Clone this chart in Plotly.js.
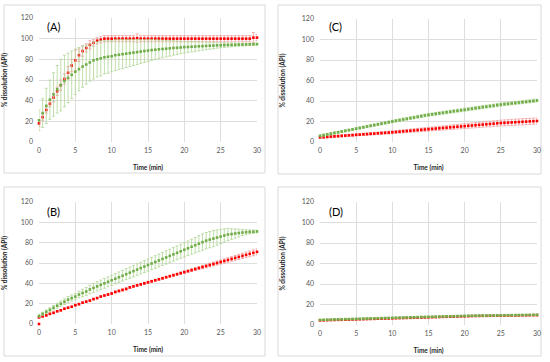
<!DOCTYPE html>
<html>
<head>
<meta charset="utf-8">
<script src="https://cdn.plot.ly/plotly-3.0.1.min.js"></script>
<style>html,body{margin:0;padding:0;background:#fff;}#chart{width:550px;height:362px;}</style>
</head>
<body>
<div id="chart"></div>
<script>
const time = [0,0.5,1,1.5,2,2.5,3,3.5,4,4.5,5,5.5,6,6.5,7,7.5,8,8.5,9,9.5,10,10.5,11,11.5,12,12.5,13,13.5,14,14.5,15,15.5,16,16.5,17,17.5,18,18.5,19,19.5,20,20.5,21,21.5,22,22.5,23,23.5,24,24.5,25,25.5,26,26.5,27,27.5,28,28.5,29,29.5,30];

// Panel A
const aRed = [18,24,31,37,43,49,55,61,67,74,79,84,88,91,94,96,98,99,100,100,100,100,100,100,100,100,100,100.5,100,100,100,100,100,100,100,100,100,100,100,100,100,100,100,100,100,100,100,100,100,100,100,100,100,100,100,100,100,100,100,101,101];
const aRedErr = [3,3,3,3,4,4,5,5,6,6,10,6,5,4,4,3,3,3,3,3,3,3,3,3,3,3,3,4,3,3,3,3,3,3,3,3,3,3,3,3,3,3,3,3,3,3,3,3,3,3,3,3,3,3,3,3,3,3,3,5,3];
const aGreen = [21,28,35,41,46,51,55,59,62,65,68,70.5,73,75,77,79,80,81,82,82.5,83,84,84.5,85,85.5,86,86.5,87,87.5,88,88.5,89,89.3,89.7,90,90.3,90.6,91,91.2,91.5,91.8,92,92.2,92.4,92.6,92.8,93,93.2,93.3,93.5,93.6,93.8,93.9,94,94.1,94.2,94.3,94.4,94.5,94.6,94.7];
const aGreenErr = [10,14,17,19,21,23,25,25,24,23,22,21,20,19,18,18,17,17,16,16,15,15,14.5,14,13.5,13,12.5,12,11.5,11,10.5,10,9.5,9,8.5,8,7.5,7,6.5,6,5.5,5.2,5,4.7,4.4,4,3.7,3.4,3,2.7,2.4,2.2,2,1.8,1.6,1.4,1.3,1.2,1.1,1,1];

// Panel B
const bRed = [6.5,7.5,8.5,10,11,12.5,13.5,15,16,17,18.5,19.5,21,22,23,24.5,25.5,27,28,29,30,31.5,32.5,33.5,34.5,36,37,38,39,40,41,42,43,44,45,46,47,48,49,50,51,52,53,54,55,56,57,58,59,60,61,62,63,64,65,66,67,68,69,70,71];
const bRedErr = [0.8,0.8,0.8,0.8,0.8,0.8,0.8,0.8,0.8,0.8,0.8,0.8,0.8,0.8,0.8,0.8,0.8,0.8,0.8,0.8,1,1,1,1,1,1,1,1,1,1,1,1,1,1,1,1,1,1,1,1.2,1.2,1.2,1.3,1.4,1.5,1.6,1.7,1.8,1.9,2,2,2.1,2.2,2.3,2.4,2.5,2.6,2.7,2.8,2.9,3];
const bRedOriginX = [0];
const bRedOriginY = [0];
const bGreen = [8,10,12,14,16,18,20,22,24,25.5,27,29,30.5,32,34,35.5,37,38.5,40,41.5,43,44.5,46,47.5,49,50.5,52,53.5,55,56.5,58,59.5,61,62.5,64,65.5,67,68.5,70,71.5,73,74.5,76,77.5,79,80.5,82,83,84,85,86,87,88,88.5,89,89.5,90,90.3,90.6,90.8,91];
const bGreenErr = [1.5,1.6,1.8,2,2.2,2.4,2.6,2.8,3,3,3,3.3,3.6,3.9,4.2,4.5,4.6,4.7,4.8,4.9,5,5.1,5.2,5.3,5.4,5.5,5.6,5.7,5.8,5.9,6,6.1,6.2,6.3,6.4,6.5,6.6,6.7,6.8,6.9,7,7.2,7.4,7.6,7.8,8,8,8,8,7.5,7,6.5,6,5.2,4.5,3.8,3,2.5,2,1.7,1.5];

// Panel C
const cRed = [4.5,4.7,5,5.2,5.5,5.7,6,6.2,6.5,6.7,7,7.2,7.5,7.7,8,8.2,8.5,8.7,9,9.2,9.5,9.8,10.1,10.4,10.7,11,11.3,11.6,11.9,12.2,12.5,12.8,13.1,13.4,13.7,14,14.3,14.6,14.9,15.2,15.5,15.8,16.1,16.4,16.7,17,17.3,17.6,17.9,18.2,18.5,18.7,18.9,19.1,19.3,19.5,19.7,19.9,20.1,20.3,20.5];
const cRedErr = [1,1,1,1,1,1,1,1,1,1,1,1,1.1,1.1,1.1,1.2,1.2,1.2,1.3,1.3,1.3,1.4,1.4,1.5,1.5,1.6,1.6,1.7,1.7,1.8,1.8,1.9,1.9,2,2,2.1,2.1,2.2,2.2,2.3,2.3,2.4,2.4,2.5,2.5,2.6,2.6,2.7,2.7,2.8,2.8,2.9,2.9,3,3,3,3,3,3,3,3];
const cGreen = [6,6.7,7.4,8.1,8.8,9.5,10.2,10.9,11.6,12.3,13,13.7,14.4,15.1,15.8,16.5,17.2,17.9,18.6,19.3,20,20.7,21.3,22,22.6,23.3,23.9,24.6,25.2,25.9,26.5,27,27.5,28,28.5,29,29.5,30,30.5,31,31.5,32,32.5,33,33.5,34,34.5,35,35.5,36,36.5,36.9,37.3,37.7,38.1,38.5,38.9,39.3,39.7,40.1,40.5];
const cGreenErr = [1,1,1,1,1,1,1,1,1,1,1.1,1.1,1.1,1.1,1.1,1.2,1.2,1.2,1.2,1.2,1.3,1.3,1.3,1.3,1.3,1.3,1.4,1.4,1.4,1.4,1.4,1.4,1.4,1.4,1.4,1.5,1.5,1.5,1.5,1.5,1.5,1.5,1.5,1.5,1.5,1.5,1.5,1.5,1.5,1.5,1.5,1.5,1.5,1.5,1.5,1.5,1.5,1.5,1.5,1.5,1.5];

// Panel D
const dRed = [4.5,4.6,4.7,4.8,4.9,5.0,5.1,5.2,5.3,5.4,5.5,5.6,5.7,5.8,5.9,6.0,6.1,6.2,6.3,6.4,6.5,6.6,6.7,6.8,6.9,7.0,7.1,7.2,7.3,7.4,7.5,7.6,7.7,7.8,7.9,8.0,8.1,8.2,8.3,8.4,8.5,8.6,8.7,8.8,8.85,8.9,8.95,9.0,9.05,9.1,9.15,9.2,9.25,9.3,9.35,9.4,9.45,9.5,9.55,9.6,9.6];
const dRedErr = [0.4,0.4,0.4,0.4,0.4,0.4,0.4,0.4,0.4,0.4,0.4,0.4,0.4,0.4,0.4,0.4,0.4,0.4,0.4,0.4,0.4,0.4,0.4,0.4,0.4,0.4,0.4,0.4,0.4,0.4,0.4,0.4,0.4,0.4,0.4,0.4,0.4,0.4,0.4,0.4,0.4,0.4,0.4,0.4,0.4,0.4,0.4,0.4,0.4,0.4,0.4,0.4,0.4,0.4,0.4,0.4,0.4,0.4,0.4,0.4,0.4];
const dGreen = [5.0,5.1,5.2,5.3,5.4,5.5,5.6,5.7,5.8,5.9,6.0,6.1,6.2,6.3,6.4,6.5,6.6,6.7,6.8,6.9,7.0,7.1,7.2,7.3,7.4,7.5,7.6,7.7,7.8,7.9,8.0,8.05,8.1,8.2,8.3,8.4,8.5,8.6,8.7,8.8,8.9,9.0,9.05,9.1,9.15,9.2,9.25,9.3,9.35,9.4,9.45,9.5,9.55,9.6,9.65,9.7,9.75,9.8,9.85,9.9,10.0];
const dGreenErr = [0.4,0.4,0.4,0.4,0.4,0.4,0.4,0.4,0.4,0.4,0.4,0.4,0.4,0.4,0.4,0.4,0.4,0.4,0.4,0.4,0.4,0.4,0.4,0.4,0.4,0.4,0.4,0.4,0.4,0.4,0.4,0.4,0.4,0.4,0.4,0.4,0.4,0.4,0.4,0.4,0.4,0.4,0.4,0.4,0.4,0.4,0.4,0.4,0.4,0.4,0.4,0.4,0.4,0.4,0.4,0.4,0.4,0.4,0.4,0.4,0.4];

const panelLabels = ['(A)','(B)','(C)','(D)'];
const xTitle = 'Time (min)';
const yTitle = '% dissolution (API)';

const RED = '#ff0000', RED_ERR = '#f29a9a';
const GREEN = '#70ad47', GREEN_ERR = '#b0d596';

function series(x, y, err, color, errColor, ax) {
  return {
    type: 'scatter', mode: 'markers', x: x, y: y,
    xaxis: 'x' + ax, yaxis: 'y' + ax, cliponaxis: false, showlegend: false,
    marker: {symbol: 'square', size: 2.6, color: color},
    error_y: {type: 'data', array: err, visible: true, color: errColor, thickness: 0.8, width: 1.5}
  };
}

const traces = [
  series(time, aRed, aRedErr, RED, RED_ERR, ''),
  series(time, aGreen, aGreenErr, GREEN, GREEN_ERR, ''),
  series(time, bRed, bRedErr, RED, RED_ERR, '2'),
  {type:'scatter', mode:'markers', x: bRedOriginX, y: bRedOriginY, xaxis:'x2', yaxis:'y2', cliponaxis:false, showlegend:false, marker:{symbol:'square', size:2.6, color:RED}},
  series(time, bGreen, bGreenErr, GREEN, GREEN_ERR, '2'),
  series(time, cRed, cRedErr, RED, RED_ERR, '3'),
  series(time, cGreen, cGreenErr, GREEN, GREEN_ERR, '3'),
  series(time, dRed, dRedErr, RED, RED_ERR, '4'),
  series(time, dGreen, dGreenErr, GREEN, GREEN_ERR, '4')
];

const W = 550, H = 362;
const px = v => v / W, py = v => 1 - v / H;
const tickFont = {family: 'Lato, Liberation Sans, sans-serif', size: 7, color: '#595959'};
const titleFont = {family: 'Lato, Liberation Sans, sans-serif', size: 6.5, color: '#262626', weight: 'bold'};

function xa(x0, x1, anchor) {
  return {domain: [px(x0), px(x1)], anchor: anchor, range: [0, 30], tickvals: [0,5,10,15,20,25,30],
    showgrid: true, gridcolor: '#dedede', gridwidth: 1, zeroline: false, showline: false,
    ticks: '', tickfont: tickFont, ticklabelstandoff: 3,
    title: {text: '<b>' + xTitle + '</b>', font: titleFont, standoff: 12}, fixedrange: true};
}
function ya(y0, y1, anchor) {
  return {domain: [py(y1), py(y0)], anchor: anchor, range: [0, 120], tickvals: [0,20,40,60,80,100,120],
    showgrid: true, gridcolor: '#dedede', gridwidth: 1, zeroline: false, showline: false,
    ticks: '', tickfont: tickFont, ticklabelstandoff: 5,
    title: {text: '<b>' + yTitle + '</b>', font: titleFont, standoff: 15}, fixedrange: true};
}

const boxes = [[4,5,265,173],[278,5,541,174],[4,187,265,356],[278,187,541,356]];
const shapes = boxes.map(b => ({type:'rect', xref:'paper', yref:'paper', x0: px(b[0]), x1: px(b[2]), y0: py(b[3]), y1: py(b[1]), line:{color:'#d9d9d9', width:1}, fillcolor:'rgba(0,0,0,0)', layer:'below'}));

const labelPos = [[45,27],[45,211],[327,27],[327,211]];
const annotations = panelLabels.map((t, i) => ({
  text: t, xref:'paper', yref:'paper', x: px(labelPos[i][0]), y: py(labelPos[i][1]),
  xanchor:'left', yanchor:'middle', showarrow:false,
  font:{family:'Lato, Liberation Sans, sans-serif', size: 11, color:'#000'}
}));

const layout = {
  width: W, height: H, margin: {l:0, r:0, t:0, b:0},
  paper_bgcolor: '#fff', plot_bgcolor: '#fff', showlegend: false,
  xaxis: xa(39, 257, 'y'), yaxis: ya(18, 142, 'x'),
  xaxis2: xa(39, 257, 'y2'), yaxis2: ya(202, 324, 'x2'),
  xaxis3: xa(320, 537, 'y3'), yaxis3: ya(19, 142, 'x3'),
  xaxis4: xa(320, 537, 'y4'), yaxis4: ya(202, 325, 'x4'),
  shapes: shapes, annotations: annotations
};

Plotly.newPlot('chart', traces, layout, {staticPlot: true, displayModeBar: false});
</script>
</body>
</html>
